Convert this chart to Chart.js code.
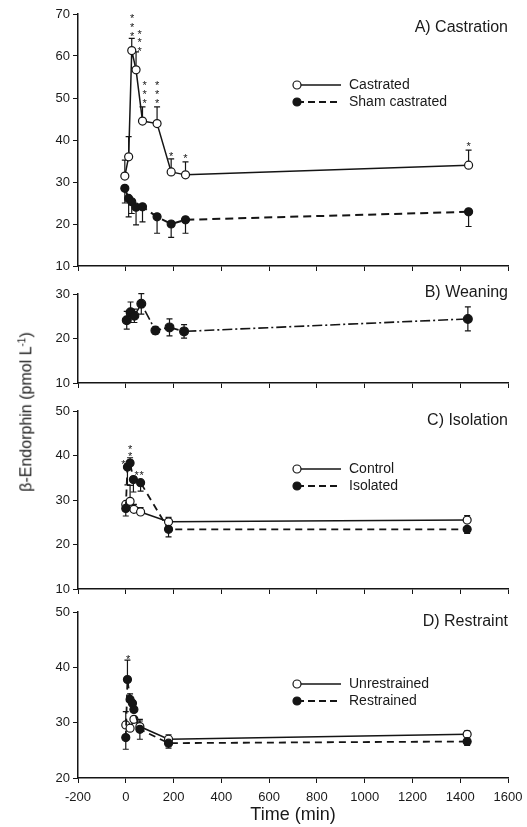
<!DOCTYPE html>
<html><head><meta charset="utf-8">
<script src="https://cdn.jsdelivr.net/npm/chart.js@4.4.1/dist/chart.umd.min.js"></script>
<style>
html,body{margin:0;padding:0;background:#fff;}
#wrap{position:relative;width:527px;height:827px;overflow:hidden;background:#fff;}
canvas{position:absolute;left:0;}
#ylab{position:absolute;left:26px;top:412px;transform:translate(-50%,-50%) rotate(-90deg);font:16px "Liberation Sans",Arial,sans-serif;color:#1a1a1a;white-space:nowrap;}
#ylab sup{font-size:10px;}
</style></head>
<body><div id="wrap">
<canvas id="cA" width="527" height="280" style="top:0px"></canvas>
<canvas id="cB" width="527" height="117" style="top:280px"></canvas>
<canvas id="cC" width="527" height="208" style="top:395px"></canvas>
<canvas id="cD" width="527" height="230" style="top:597px"></canvas>
<div id="ylab">β-Endorphin (pmol L<sup>-1</sup>)</div>
</div>
<script>
// ---------- DATA ----------
const xTickMin = -200, xTickMax = 1600, xTickStep = 200;

// A) Castration
const timesA = [-4, 12, 25, 43, 70, 131, 190, 250, 1435];
const castrated = [31.4, 36.0, 61.3, 56.7, 44.5, 43.9, 32.4, 31.7, 34.0];
const castratedErrUp = [3.8, 4.8, 2.9, 4.3, 3.4, 4.0, 3.1, 3.1, 3.6];
const sham = [28.5, 26.1, 25.3, 24.0, 24.1, 21.7, 20.0, 21.0, 22.9];
const shamErrDown = [3.5, 4.4, 2.8, 4.2, 3.6, 3.9, 3.2, 3.2, 3.5];
const starsA = [
  {x:27,y:69.5},{x:27,y:67.4},{x:27,y:65.3},
  {x:58,y:65.8},{x:58,y:63.7},{x:58,y:61.6},
  {x:79,y:53.6},{x:79,y:51.5},{x:79,y:49.4},
  {x:131,y:53.6},{x:131,y:51.5},{x:131,y:49.4},
  {x:190,y:36.7},{x:250,y:36.2},{x:1435,y:39.0}
];

// B) Weaning
const timesB = [4, 20, 36, 65, 124, 183, 244, 1432];
const weaning = [24.1, 25.9, 25.1, 27.8, 21.8, 22.5, 21.6, 24.4];
const weaningErr = [2.0, 2.3, 1.5, 2.3, 0.8, 1.9, 1.5, 2.7];

// C) Isolation
const timesControl = [0, 18, 34, 62, 179, 1429];
const control = [29.0, 29.7, 27.9, 27.3, 25.1, 25.5];
const controlErrUp = [0, 3.6, 1.1, 1.0, 1.0, 1.0];
const timesIsolated = [0, 7, 18, 32, 62, 179, 1429];
const isolated = [28.1, 37.4, 38.3, 34.6, 33.9, 23.4, 23.4];
const isolatedErrUp = [0, 0, 1.2, 0, 0, 0, 0];
const isolatedErrDown = [1.7, 4.0, 0, 2.8, 1.9, 1.7, 0.9];
const starsC = [{x:18,y:41.9},{x:18,y:40.4},{x:-10,y:38.6},{x:45,y:36.0},{x:66,y:36.0}];

// D) Restraint
const timesUnrestrained = [0, 18, 34, 59, 179, 1429];
const unrestrained = [29.6, 29.0, 30.6, 29.3, 27.0, 27.9];
const unrestrainedErrUp = [2.4, 0.6, 0, 1.3, 0.8, 0.6];
const timesRestrained = [0, 7, 18, 28, 34, 59, 179, 1429];
const restrained = [27.3, 37.8, 34.2, 33.5, 32.4, 28.8, 26.3, 26.6];
const restrainedErrUp = [0, 3.5, 1.0, 0, 0, 1.5, 0, 0];
const restrainedErrDown = [2.1, 0, 0, 0, 0, 1.8, 0.9, 0.7];
const starsD = [{x:10,y:41.9}];

// ---------- RENDERING ----------
const FONT = '"Liberation Sans", Arial, Helvetica, sans-serif';
const INK = '#151515';
const pts = (xs, ys) => xs.map((x, i) => ({x, y: ys[i]}));

function series(xs, ys, open, dash, width, eu, ed, r) {
  return {
    data: pts(xs, ys), borderColor: INK, borderWidth: width, borderDash: dash,
    pointRadius: r || 4, pointHoverRadius: r || 4, pointBorderWidth: 1.2,
    pointBackgroundColor: open ? '#fff' : INK, pointBorderColor: INK,
    fill: false, tension: 0, errUp: eu, errDown: ed
  };
}

const errorBarPlugin = {
  id: 'errbars',
  beforeDatasetsDraw(chart) {
    const ctx = chart.ctx, xs = chart.scales.x, ys = chart.scales.y;
    ctx.save();
    ctx.strokeStyle = INK; ctx.lineWidth = 1.2; ctx.setLineDash([]);
    chart.data.datasets.forEach(ds => {
      ds.data.forEach((p, j) => {
        const px = xs.getPixelForValue(p.x), py = ys.getPixelForValue(p.y);
        [[ds.errUp, 1], [ds.errDown, -1]].forEach(([arr, s]) => {
          if (!arr || !arr[j]) return;
          const ey = ys.getPixelForValue(p.y + s * arr[j]);
          ctx.beginPath();
          ctx.moveTo(px, py); ctx.lineTo(px, ey);
          ctx.moveTo(px - 3, ey); ctx.lineTo(px + 3, ey);
          ctx.stroke();
        });
      });
    });
    ctx.restore();
  }
};

const starPlugin = {
  id: 'stars',
  afterDatasetsDraw(chart, args, opts) {
    if (!opts.items) return;
    const ctx = chart.ctx, xs = chart.scales.x, ys = chart.scales.y;
    ctx.save();
    ctx.fillStyle = INK; ctx.font = '11px ' + FONT;
    ctx.textAlign = 'center'; ctx.textBaseline = 'alphabetic';
    opts.items.forEach(s => {
      ctx.fillText('*', xs.getPixelForValue(s.x), ys.getPixelForValue(s.y) + 6);
    });
    ctx.restore();
  }
};

const decoPlugin = {
  id: 'deco',
  afterDraw(chart, args, opts) {
    const ctx = chart.ctx, right = chart.chartArea.right;
    ctx.save();
    ctx.fillStyle = '#1a1a1a';
    if (opts.title) {
      ctx.font = '16px ' + FONT; ctx.textAlign = 'right'; ctx.textBaseline = 'middle';
      ctx.fillText(opts.title.text, right, opts.title.y);
    }
    (opts.legend || []).forEach(e => {
      ctx.strokeStyle = INK; ctx.lineWidth = e.width; ctx.setLineDash(e.dash);
      ctx.beginPath(); ctx.moveTo(297, e.y); ctx.lineTo(341, e.y); ctx.stroke();
      ctx.setLineDash([]); ctx.lineWidth = 1.2;
      ctx.beginPath(); ctx.arc(297, e.y, 4, 0, Math.PI * 2);
      ctx.fillStyle = e.open ? '#fff' : INK; ctx.fill(); ctx.stroke();
      ctx.fillStyle = '#1a1a1a'; ctx.font = '14px ' + FONT;
      ctx.textAlign = 'left'; ctx.textBaseline = 'middle';
      ctx.fillText(e.label, 349, e.y);
    });
    ctx.restore();
  }
};

function makePanel(id, cfg) {
  return new Chart(document.getElementById(id), {
    type: 'line',
    data: { datasets: cfg.datasets },
    options: {
      responsive: false, animation: false, devicePixelRatio: 1,
      events: [],
      layout: { padding: { top: cfg.padTop, left: 0, right: 19, bottom: 0 } },
      plugins: {
        legend: { display: false }, tooltip: { enabled: false },
        deco: cfg.deco, stars: { items: cfg.stars }
      },
      scales: {
        x: {
          type: 'linear', min: xTickMin, max: xTickMax,
          ticks: { stepSize: xTickStep, display: cfg.showX, autoSkip: false, maxRotation: 0,
                   callback: v => String(v), font: { size: 13, family: FONT }, color: '#1a1a1a', padding: 7 },
          grid: { drawOnChartArea: false, drawTicks: true, tickLength: 5, color: INK, lineWidth: 1 },
          border: { color: INK, width: 1.5 },
          title: cfg.showX ? { display: true, text: 'Time (min)', font: { size: 18, family: FONT }, color: '#1a1a1a', padding: { top: 0, bottom: 1 } } : { display: false },
          afterFit: s => {
            s.height = cfg.xH;
            s.paddingRight = Math.min(s.paddingRight, 18);
            s.paddingLeft = Math.min(s.paddingLeft, 18);
          }
        },
        y: {
          type: 'linear', min: cfg.yMin, max: cfg.yMax,
          ticks: { stepSize: 10, callback: v => String(v), font: { size: 13, family: FONT }, color: '#1a1a1a', padding: 3 },
          grid: { drawOnChartArea: false, drawTicks: true, tickLength: 5, color: INK, lineWidth: 1 },
          border: { color: INK, width: 1.5 },
          afterFit: s => { s.width = 78; }
        }
      }
    },
    plugins: [errorBarPlugin, starPlugin, decoPlugin]
  });
}

makePanel('cA', {
  padTop: 14, xH: 14, yMin: 10, yMax: 70, showX: false,
  datasets: [
    series(timesA, sham, false, [8, 5], 2, null, shamErrDown),
    series(timesA, castrated, true, [], 1.5, castratedErrUp, null)
  ],
  stars: starsA,
  deco: { title: { text: 'A) Castration', y: 28 },
          legend: [ { label: 'Castrated', open: true, dash: [], width: 1.5, y: 85 },
                    { label: 'Sham castrated', open: false, dash: [7, 4], width: 2, y: 102 } ] }
});

makePanel('cB', {
  padTop: 14, xH: 14, yMin: 10, yMax: 30, showX: false,
  datasets: [ series(timesB, weaning, false, [10, 3, 2, 3], 1.6, weaningErr, weaningErr, 4.4) ],
  stars: [],
  deco: { title: { text: 'B) Weaning', y: 293 - 280 }, legend: [] }
});

makePanel('cC', {
  padTop: 16, xH: 14, yMin: 10, yMax: 50, showX: false,
  datasets: [
    series(timesIsolated, isolated, false, [7, 5], 1.8, isolatedErrUp, isolatedErrDown),
    series(timesControl, control, true, [], 1.5, controlErrUp, null)
  ],
  stars: starsC,
  deco: { title: { text: 'C) Isolation', y: 421 - 395 },
          legend: [ { label: 'Control', open: true, dash: [], width: 1.5, y: 469 - 395 },
                    { label: 'Isolated', open: false, dash: [7, 4], width: 1.8, y: 486 - 395 } ] }
});

makePanel('cD', {
  padTop: 15, xH: 49, yMin: 20, yMax: 50, showX: true,
  datasets: [
    series(timesRestrained, restrained, false, [7, 5], 1.8, restrainedErrUp, restrainedErrDown),
    series(timesUnrestrained, unrestrained, true, [], 1.5, unrestrainedErrUp, null)
  ],
  stars: starsD,
  deco: { title: { text: 'D) Restraint', y: 622 - 597 },
          legend: [ { label: 'Unrestrained', open: true, dash: [], width: 1.5, y: 684 - 597 },
                    { label: 'Restrained', open: false, dash: [7, 4], width: 1.8, y: 701 - 597 } ] }
});
</script>
</body></html>
